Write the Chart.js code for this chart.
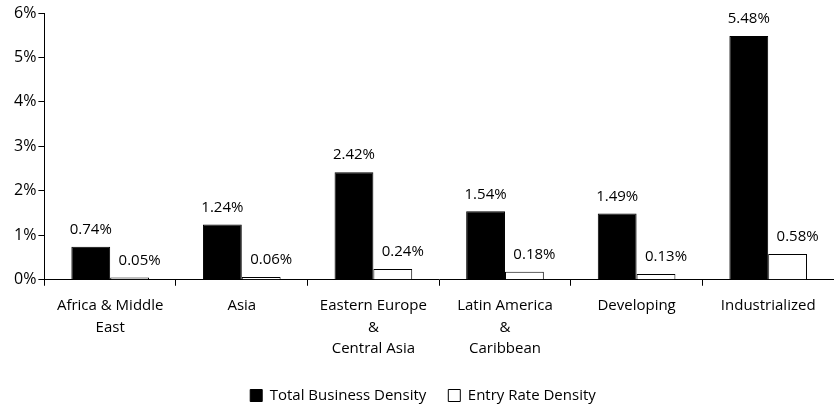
<!DOCTYPE html>
<html>
<head>
<meta charset="utf-8">
<script src="https://cdn.jsdelivr.net/npm/chart.js@4"></script>
<style>
  html, body { margin: 0; padding: 0; background: #fff; }
  #wrap { width: 834px; height: 407px; position: relative; }
</style>
</head>
<body>
<div id="wrap"><canvas id="chart"></canvas></div>
<script>
const regions = [
    ['Africa & Middle', 'East'],
    'Asia',
    ['Eastern Europe', '&', 'Central Asia'],
    ['Latin America', '&', 'Caribbean'],
    'Developing',
    'Industrialized'
];
const totalBusinessDensity = [0.74, 1.24, 2.42, 1.54, 1.49, 5.48];
const entryRateDensity = [0.05, 0.06, 0.24, 0.18, 0.13, 0.58];
const yTicks = [0, 1, 2, 3, 4, 5, 6];

const fontFamily = '"Open Sans", "Noto Sans", sans-serif';

// draw the value above every bar
const barLabels = {
    id: 'barLabels',
    afterDatasetsDraw(chart) {
        const ctx = chart.ctx;
        ctx.save();
        ctx.font = '15px ' + fontFamily;
        ctx.fillStyle = '#000';
        ctx.textAlign = 'center';
        ctx.textBaseline = 'middle';
        chart.data.datasets.forEach((ds, i) => {
            const meta = chart.getDatasetMeta(i);
            const shift = i === 1 ? 10 : 0;
            meta.data.forEach((bar, j) => {
                ctx.fillText(ds.data[j].toFixed(2) + '%', bar.x + shift, bar.y - 17);
            });
        });
        ctx.restore();
    }
};

new Chart(document.getElementById('chart'), {
    type: 'bar',
    data: {
        labels: regions,
        datasets: [{
            label: 'Total Business Density',
            data: totalBusinessDensity,
            backgroundColor: '#000',
            borderColor: '#000',
            borderWidth: 1,
            categoryPercentage: 0.59,
            barPercentage: 1.0
        }, {
            label: 'Entry Rate Density',
            data: entryRateDensity,
            backgroundColor: '#fff',
            borderColor: '#000',
            borderWidth: 1,
            categoryPercentage: 0.59,
            barPercentage: 1.0
        }]
    },
    options: {
        responsive: true,
        maintainAspectRatio: false,
        animation: false,
        layout: {padding: {top: 13, right: 0, left: 12, bottom: 0}},
        plugins: {
            tooltip: {enabled: false},
            legend: {
                position: 'bottom',
                maxHeight: 41,
                labels: {
                    color: '#000',
                    font: {family: fontFamily, size: 15},
                    boxWidth: 12,
                    boxHeight: 12,
                    padding: 22
                }
            }
        },
        scales: {
            x: {
                grid: {display: true, drawOnChartArea: false, color: '#000', tickLength: 6, tickColor: '#000'},
                border: {color: '#000', width: 1},
                ticks: {color: '#000', font: {family: fontFamily, size: 15, lineHeight: 1.45}, maxRotation: 0, autoSkip: false, padding: 9},
                afterFit(scale) {
                    scale.height -= 3;
                }
            },
            y: {
                min: 0,
                max: 6,
                afterBuildTicks(axis) {
                    axis.ticks = yTicks.map(v => ({value: v}));
                },
                grid: {display: true, drawOnChartArea: false, color: '#000', tickLength: 6, tickColor: '#000'},
                border: {color: '#000', width: 1},
                ticks: {
                    color: '#000',
                    font: {family: fontFamily, size: 16},
                    padding: 2,
                    callback: v => v + '%'
                }
            }
        }
    },
    plugins: [barLabels]
});
</script>
</body>
</html>
